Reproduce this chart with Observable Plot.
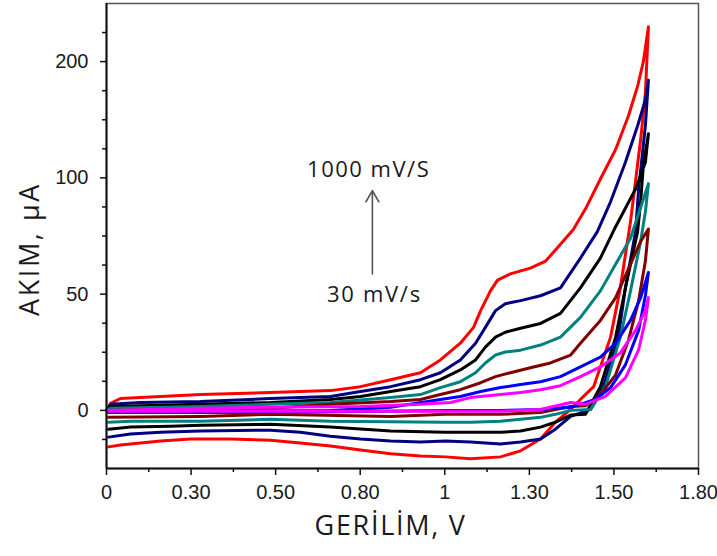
<!DOCTYPE html>
<html>
<head>
<meta charset="utf-8">
<script src="https://cdn.jsdelivr.net/npm/d3@7"></script>
<script src="https://cdn.jsdelivr.net/npm/@observablehq/plot@0.6"></script>
<style>
  html, body { margin: 0; padding: 0; background: #fff; }
</style>
</head>
<body>
<div id="chart"></div>
<script>
// Axis ticks (positions on a linear scale) and their printed labels
const xTickValues = [0, 0.25, 0.5, 0.75, 1, 1.25, 1.5, 1.75];
const xTickLabels = ["0", "0.30", "0.50", "0.80", "1", "1.30", "1.50", "1.80"];
const xMinorTicks = [0.125, 0.375, 0.625, 0.875, 1.125, 1.375, 1.625];
const yTickValues = [0, 50, 100, 150];
const yTickLabels = ["0", "50", "100", "200"];
const yMinorTicks = [-12.5, 12.5, 25, 37.5, 62.5, 75, 87.5, 112.5, 125, 137.5, 162.5];

// Scan rates (series), highest to lowest, with colours
const seriesNames = ["1000", "750", "500", "300", "150", "60", "30"];
const seriesColors = ["#ff0000", "#000080", "#000000", "#008080", "#800000", "#0000ff", "#ff00ff"];

// Cyclic voltammograms: [potential, current] – forward sweep then reverse sweep
const cvRed = [[0,0],[0.012,3.0],[0.041,5.1],[0.278,6.8],[0.485,7.7],[0.662,8.5],[0.751,10.2],[0.840,13.2],[0.928,16.2],[0.987,21.7],[1.046,28.9],[1.085,35.7],[1.106,42.9],[1.135,51.4],[1.156,56.0],[1.194,58.7],[1.253,61.2],[1.298,64.2],[1.342,71.4],[1.380,77.8],[1.416,86.7],[1.460,99.5],[1.505,112.2],[1.543,126.7],[1.570,139.4],[1.587,150.0],[1.602,165.0],
  [1.593,136.4],[1.579,116.5],[1.549,81.2],[1.519,52.7],[1.490,31.5],[1.440,10.2],[1.401,4.7],[1.372,0.4],[1.327,-5.1],[1.283,-12.3],[1.224,-17.4],[1.165,-20.0],[1.076,-20.8],[1.002,-20.0],[0.928,-19.6],[0.840,-18.7],[0.751,-17.0],[0.662,-15.3],[0.573,-14.0],[0.485,-12.8],[0.367,-12.3],[0.248,-12.3],[0.160,-13.2],[0.101,-14.0],[0.041,-14.9],[0.006,-15.7]];
const cvNavy = [[0,0],[0.012,2.6],[0.101,3.4],[0.278,3.8],[0.485,5.1],[0.662,6.0],[0.751,8.1],[0.840,10.2],[0.928,13.2],[0.987,16.2],[1.046,21.7],[1.091,28.9],[1.120,35.7],[1.150,42.9],[1.179,45.9],[1.224,47.2],[1.283,49.3],[1.342,52.7],[1.401,65.5],[1.451,76.9],[1.490,89.7],[1.534,106.7],[1.570,122.4],[1.593,133.5],[1.602,142.0],
  [1.593,122.4],[1.573,95.2],[1.564,76.9],[1.534,52.7],[1.513,31.5],[1.469,10.2],[1.431,0.4],[1.372,-2.6],[1.327,-8.1],[1.283,-12.3],[1.224,-13.6],[1.165,-14.5],[1.076,-13.6],[1.002,-13.2],[0.928,-13.6],[0.840,-13.2],[0.751,-12.3],[0.662,-11.1],[0.573,-9.4],[0.485,-8.5],[0.278,-8.9],[0.160,-9.4],[0.071,-10.2],[0.006,-11.5]];
const cvBlack = [[0,0],[0.012,1.7],[0.278,2.6],[0.485,3.4],[0.662,4.7],[0.751,6.0],[0.840,8.1],[0.928,10.2],[0.987,13.2],[1.046,17.4],[1.091,21.7],[1.120,27.2],[1.150,31.5],[1.179,33.6],[1.224,35.3],[1.283,37.4],[1.342,41.7],[1.401,52.7],[1.460,65.5],[1.505,79.0],[1.564,95.2],[1.593,106.7],[1.602,119.0],
  [1.587,105.4],[1.579,89.7],[1.570,76.9],[1.534,52.7],[1.505,31.5],[1.460,10.2],[1.416,-1.7],[1.372,-2.0],[1.327,-5.1],[1.283,-7.2],[1.224,-8.9],[1.165,-9.4],[1.076,-9.4],[1.002,-9.4],[0.840,-8.9],[0.662,-7.2],[0.485,-6.0],[0.278,-6.4],[0.189,-6.8],[0.071,-7.2],[0.006,-8.1]];
const cvTeal = [[0,0],[0.012,0.9],[0.278,1.7],[0.485,2.6],[0.662,3.4],[0.840,5.5],[0.928,6.8],[0.987,9.8],[1.046,12.3],[1.091,16.2],[1.120,20.4],[1.150,23.8],[1.179,25.1],[1.224,25.9],[1.283,28.1],[1.342,31.5],[1.401,40.0],[1.460,51.4],[1.505,62.9],[1.549,74.0],[1.602,97.5],
  [1.593,85.4],[1.579,72.7],[1.549,51.4],[1.519,31.5],[1.475,10.2],[1.431,0.4],[1.372,0.0],[1.327,-1.7],[1.283,-3.0],[1.224,-3.8],[1.165,-4.7],[1.076,-5.1],[1.002,-5.1],[0.662,-4.7],[0.485,-3.8],[0.278,-4.7],[0.071,-4.7],[0.006,-5.1]];
const cvMaroon = [[0,0],[0.278,0.4],[0.485,0.9],[0.662,2.6],[0.840,3.8],[0.928,4.7],[0.987,6.8],[1.046,8.9],[1.106,11.9],[1.150,14.5],[1.194,16.2],[1.253,18.3],[1.312,20.4],[1.372,23.8],[1.401,28.9],[1.460,38.7],[1.505,48.5],[1.549,62.9],[1.579,72.7],[1.602,78.0],
  [1.593,64.2],[1.573,47.2],[1.543,30.2],[1.505,15.3],[1.460,6.8],[1.416,2.0],[1.372,1.7],[1.283,-0.9],[1.165,-1.7],[1.002,-1.7],[0.840,-2.6],[0.485,-1.7],[0.278,-2.6],[0.006,-3.0]];
const cvBlue = [[0,0],[0.278,-0.4],[0.662,0.0],[0.840,1.3],[0.987,4.7],[1.046,6.0],[1.106,8.1],[1.165,9.8],[1.224,11.1],[1.283,12.3],[1.342,14.5],[1.401,18.7],[1.460,22.9],[1.505,28.9],[1.549,38.7],[1.579,48.5],[1.602,59.3],
  [1.593,49.3],[1.573,34.4],[1.534,19.6],[1.490,9.8],[1.445,4.7],[1.372,1.3],[1.283,0.4],[1.165,0.0],[1.002,0.0],[0.485,-0.9],[0.006,-0.9]];
const cvMagenta = [[0,0],[0.278,0.9],[0.485,1.3],[0.751,1.7],[0.928,2.6],[1.017,3.4],[1.076,5.5],[1.165,6.8],[1.224,7.7],[1.283,8.9],[1.342,10.6],[1.401,14.5],[1.460,18.7],[1.519,24.7],[1.564,34.4],[1.593,42.9],[1.602,48.5],
  [1.593,38.7],[1.573,26.0],[1.534,14.0],[1.475,6.0],[1.416,2.6],[1.372,3.4],[1.283,0.4],[1.165,-0.4],[1.002,-0.4],[0.485,-0.4],[0.006,-0.4]];

// Annotations
const noteLabels = ["1000 mV/S", "30 mV/s"];
const notePos = [[0.775, 103.5], [0.792, 49.5]];
const arrowSpec = [{x: 0.786, from: 58.7, to: 94.5}];
const xTitle = "GERİLİM, V";
const yTitle = "AKIM, µA";

const curves = [cvRed, cvNavy, cvBlack, cvTeal, cvMaroon, cvBlue, cvMagenta];
const rows = curves.flatMap((c, k) => c.map(([v, i], j) => ({series: seriesNames[k], order: j, v, i})));
const notes = noteLabels.map((t, k) => ({t, x: notePos[k][0], y: notePos[k][1]}));

const chart = Plot.plot({
  width: 717,
  height: 556,
  marginLeft: 106,
  marginRight: 19,
  marginTop: 3,
  marginBottom: 88,
  style: {fontFamily: "'Liberation Sans', Arial, sans-serif", fontSize: "20px", color: "#1a1a1a", background: "#fff"},
  x: {domain: [0, 1.75]},
  y: {domain: [-25, 175]},
  color: {domain: seriesNames, range: seriesColors},
  marks: [
    Plot.frame({stroke: "#555", strokeWidth: 1.5}),
    Plot.line(rows, {x: "v", y: "i", z: "series", stroke: "series", strokeWidth: 3, strokeLinejoin: "round"}),
    Plot.ruleX([0], {stroke: "#111", strokeWidth: 2}),
    Plot.ruleY([-25], {stroke: "#111", strokeWidth: 2}),
    Plot.axisX({ticks: xTickValues, tickFormat: d => xTickLabels[xTickValues.indexOf(d)], tickSize: 7, tickPadding: 9, label: null, stroke: "#111", strokeWidth: 1.5, fontSize: 20}),
    Plot.axisX({ticks: xMinorTicks, tickSize: 4, fill: "none", label: null, stroke: "#111", strokeWidth: 1.5}),
    Plot.axisY({ticks: yTickValues, tickFormat: d => yTickLabels[yTickValues.indexOf(d)], tickSize: 6, tickPadding: 12, label: null, stroke: "#111", strokeWidth: 1.5, fontSize: 20}),
    Plot.axisY({ticks: yMinorTicks, tickSize: 4, fill: "none", label: null, stroke: "#111", strokeWidth: 1.5}),
    Plot.arrow(arrowSpec, {x1: "x", x2: "x", y1: "from", y2: "to", stroke: "#555", strokeWidth: 1.6, headLength: 12}),
    Plot.text(notes, {x: "x", y: "y", text: "t", fontFamily: "'Open Sans', sans-serif", fontSize: 22, fill: "#1a1a1a"}),
    Plot.text([xTitle], {frameAnchor: "bottom", dy: 66, dx: -12, text: d => d, textAnchor: "middle", fontFamily: "'Open Sans', sans-serif", fontSize: 27, fill: "#1a1a1a"}),
    Plot.text([yTitle], {frameAnchor: "left", dx: -76, dy: 13, rotate: -90, textAnchor: "middle", text: d => d, fontFamily: "'Open Sans', sans-serif", fontSize: 27, fill: "#1a1a1a"})
  ]
});
document.getElementById("chart").appendChild(chart);

// widen letter spacing of the wide-set titles/annotations to match the reference
const spacing = new Map([[xTitle, 1.7], [yTitle, 2.6], [noteLabels[0], 1.5], [noteLabels[1], 1.7]]);
d3.select(chart).selectAll("text").each(function() {
  const s = spacing.get(this.textContent);
  if (s !== undefined) this.setAttribute("letter-spacing", s);
});
</script>
</body>
</html>
